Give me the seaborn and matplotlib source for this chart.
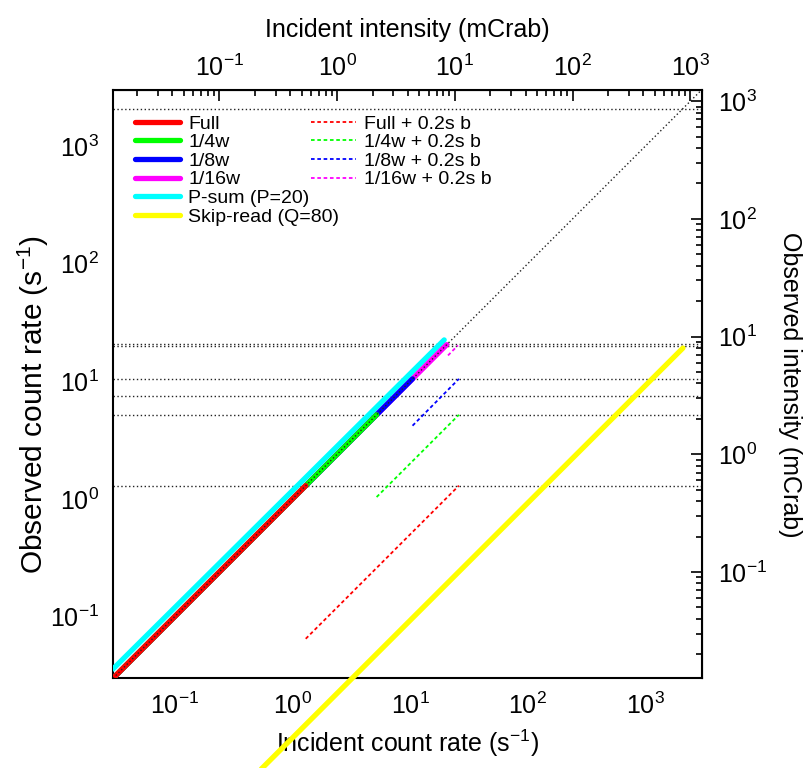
import numpy as np
import pandas as pd
import matplotlib
matplotlib.use("Agg")
import matplotlib.pyplot as plt
import seaborn as sns
from matplotlib.lines import Line2D
from matplotlib.ticker import FixedLocator

# ---------------- data ----------------
full_x = [0.03, 1.3]
full_y = [0.03, 1.3]
w4_x = [0.03, 5.2]
w4_y = [0.03, 5.2]
w8_x = [0.03, 10.5]
w8_y = [0.03, 10.5]
w16_x = [0.03, 20.5]
w16_y = [0.03, 20.5]
psum_x = [0.03, 19.5]
psum_y = [0.036, 22.5]
skip_x = [0.45, 2080]
skip_y = [0.0042, 19.2]

fullb_x = [1.3, 26]
fullb_y = [0.065, 1.3]
w4b_x = [5.2, 26]
w4b_y = [1.04, 5.2]
w8b_x = [10.5, 26]
w8b_y = [4.2, 10.5]
w16b_x = [21, 25.5]
w16b_y = [16.6, 20.2]

diag_x = [0.03, 3000]
diag_y = [0.03, 3000]
sat_levels = [2060, 20.9, 20.1, 10.5, 7.5, 5.2, 1.3]

crab_rate = 2.4  # counts/s per mCrab

major_ticks = [0.1, 1, 10, 100, 1000]

solid_labels = ["Full", "1/4w", "1/8w", "1/16w", "P-sum (P=20)", "Skip-read (Q=80)"]
dashed_labels = ["Full + 0.2s b", "1/4w + 0.2s b", "1/8w + 0.2s b", "1/16w + 0.2s b"]

# ---------------- style ----------------
sns.set_style("white")
plt.rcParams["font.family"] = ["Liberation Sans", "DejaVu Sans"]
plt.rcParams["mathtext.fontset"] = "custom"
plt.rcParams["mathtext.rm"] = "Liberation Sans"
plt.rcParams["mathtext.it"] = "Liberation Sans"
plt.rcParams["axes.unicode_minus"] = False
for k in ["text.color", "axes.labelcolor", "xtick.color", "ytick.color", "axes.edgecolor"]:
    plt.rcParams[k] = "black"

W, H = 806, 768
fig = plt.figure(figsize=(W / 100, H / 100), dpi=100)
L, R, T, B = 113, 701.7, 89.8, 678.3
ax = fig.add_axes([L / W, 1 - B / H, (R - L) / W, (B - T) / H])
ax.set_xscale("log")
ax.set_yscale("log")
ax.set_xlim(0.03, 3000)
ax.set_ylim(0.03, 3000)

dot_style = dict(color="#222222", linewidth=1.0, linestyle=(0, (1, 1.8)))
for lvl in sat_levels:
    ax.axhline(lvl, zorder=1, **dot_style)

solid = [
    (full_x, full_y, "#ff0000"),
    (w4_x, w4_y, "#00ff00"),
    (w8_x, w8_y, "#0000ff"),
    (w16_x, w16_y, "#ff00ff"),
    (psum_x, psum_y, "#00ffff"),
]
for i, (xs, ys, c) in enumerate(solid[::-1]):
    sns.lineplot(x=xs, y=ys, ax=ax, color=c, linewidth=3.8, sort=False,
                 estimator=None, zorder=3 + i, legend=False)

sns.lineplot(x=skip_x, y=skip_y, ax=ax, color="#ffff00", linewidth=3.8,
             sort=False, estimator=None, zorder=3, legend=False)
ax.lines[-1].set_clip_on(False)

dashed = [
    (fullb_x, fullb_y, "#ff0000"),
    (w4b_x, w4b_y, "#00ff00"),
    (w8b_x, w8b_y, "#0000ff"),
    (w16b_x, w16b_y, "#ff00ff"),
]
dash_ls = (0, (2.0, 1.5))
for xs, ys, c in dashed:
    sns.lineplot(x=xs, y=ys, ax=ax, color=c, linewidth=1.3, linestyle=dash_ls,
                 sort=False, estimator=None, zorder=4, legend=False)

sns.lineplot(x=diag_x, y=diag_y, ax=ax, sort=False, estimator=None,
             zorder=10, legend=False, **dot_style)


def minor_in(lo, hi):
    vals = []
    for d in range(-3, 5):
        for m in range(2, 10):
            v = m * 10.0 ** d
            if lo <= v <= hi:
                vals.append(v)
    return vals


# ---------------- axes / ticks ----------------
for s in ax.spines.values():
    s.set_linewidth(1.5)
    s.set_color("black")
ax.tick_params(which="major", direction="in", length=8, width=1.2,
               labelsize=18, top=False, right=False)
ax.tick_params(which="minor", direction="in", length=4.5, width=1.2,
               top=False, right=False)
ax.tick_params(axis="x", which="major", pad=10)
ax.tick_params(axis="y", which="major", pad=10)
for a in (ax.xaxis, ax.yaxis):
    a.set_major_locator(FixedLocator(major_ticks))
    a.set_minor_locator(FixedLocator(minor_in(0.03, 3000)))

ax.set_xlabel("Incident count rate (s$^{-1}$)", fontsize=18)
ax.xaxis.set_label_coords(0.5, (678.3 - 743) / 588.5)
ax.xaxis.label.set_va("center")
ax.set_ylabel("Observed count rate (s$^{-1}$)", fontsize=21.5)
ax.yaxis.set_label_coords((33 - 113) / 588.7, (678.3 - 405) / 588.5)
ax.yaxis.label.set_va("center")

sec_x = ax.secondary_xaxis("top", functions=(lambda x: x / crab_rate, lambda m: m * crab_rate))
sec_y = ax.secondary_yaxis("right", functions=(lambda y: y / crab_rate, lambda m: m * crab_rate))
for sa in (sec_x, sec_y):
    sa.tick_params(which="major", direction="in", length=8, width=1.2, labelsize=18)
    sa.tick_params(which="minor", direction="in", length=4.5, width=1.2)
sec_x.tick_params(which="major", pad=6)
sec_y.tick_params(which="major", pad=12)
for a in (sec_x.xaxis, sec_y.yaxis):
    a.set_major_locator(FixedLocator(major_ticks))
    a.set_minor_locator(FixedLocator(minor_in(0.03 / crab_rate, 3000 / crab_rate)))
fig.text(407 / W, 1 - 30 / H, "Incident intensity (mCrab)", fontsize=18,
         ha="center", va="center")
fig.text(790 / W, 1 - 385 / H, "Observed intensity (mCrab)", fontsize=18,
         ha="center", va="center", rotation=270)

# ---------------- legends ----------------
solid_colors = ["#ff0000", "#00ff00", "#0000ff", "#ff00ff", "#00ffff", "#ffff00"]
dashed_colors = ["#ff0000", "#00ff00", "#0000ff", "#ff00ff"]
h1 = [Line2D([], [], color=c, linewidth=3.8) for c in solid_colors]
h2 = [Line2D([], [], color=c, linewidth=1.3, linestyle=dash_ls) for c in dashed_colors]
leg_kw = dict(frameon=False, fontsize=14, loc="upper left", borderpad=0, borderaxespad=0,
              handlelength=2.3, handletextpad=0.45, labelspacing=0.05)
leg1 = ax.legend(h1, solid_labels, bbox_to_anchor=(0.037, 0.957), **leg_kw)
ax.add_artist(leg1)
ax.legend(h2, dashed_labels, bbox_to_anchor=(0.336, 0.957), **leg_kw)

fig.savefig("out.png", dpi=100)
